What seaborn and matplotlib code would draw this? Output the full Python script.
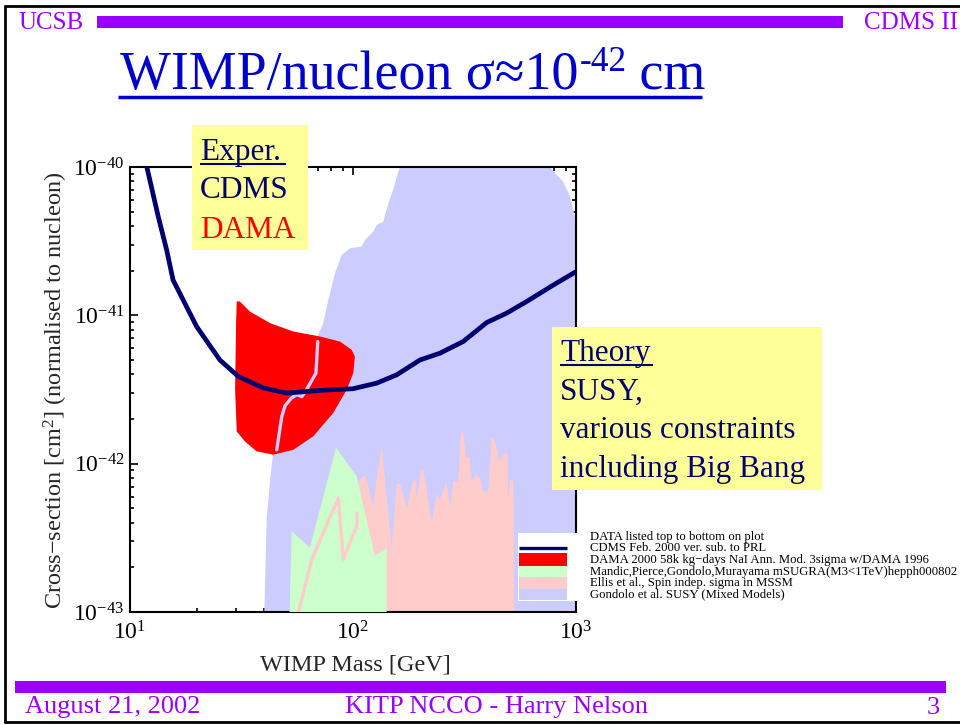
import numpy as np
import matplotlib
matplotlib.use("Agg")
import matplotlib.pyplot as plt
import matplotlib.ticker as mticker
from matplotlib.patches import Rectangle
from matplotlib.lines import Line2D
import seaborn as sns

sns.set_style("ticks")
plt.rcParams["font.family"] = ["Liberation Serif", "DejaVu Serif"]
plt.rcParams["mathtext.fontset"] = "custom"
plt.rcParams["mathtext.rm"] = "Liberation Serif"
plt.rcParams["mathtext.it"] = "Liberation Serif:italic"
plt.rcParams["mathtext.bf"] = "Liberation Serif:bold"

# ---------------- data (WIMP mass in GeV, cross-section in cm^2) ----------------
cdms_mass = [11.5, 11.9, 13.4, 14.6, 15.6, 19.9, 25.3, 30.6, 39.6, 50.4, 71.2, 100,
             127.6, 157, 199.6, 245, 312, 398, 489, 601, 791, 1000]
cdms_sigma = [1.2e-40, 1.0e-40, 4.6e-41, 2.76e-41, 1.73e-41, 8.4e-42, 5.0e-42, 3.87e-42,
              3.24e-42, 2.99e-42, 3.12e-42, 3.2e-42, 3.49e-42, 3.97e-42, 5.0e-42, 5.55e-42,
              6.66e-42, 8.95e-42, 1.035e-41, 1.24e-41, 1.60e-41, 1.97e-41]

dama_mass = [30.1, 31.1, 34.5, 42.5, 54.0, 71.1, 87.4, 98.6, 102, 100.3, 93.7, 81.6,
             66.4, 54.0, 43.9, 37.0, 32.8, 30.1, 29.6, 29.9]
dama_sigma = [1.24e-41, 1.24e-41, 1.06e-41, 8.86e-42, 7.78e-42, 7.20e-42, 6.66e-42, 5.86e-42,
              5.28e-42, 4.08e-42, 3.15e-42, 2.20e-42, 1.53e-42, 1.24e-42, 1.15e-42, 1.21e-42,
              1.41e-42, 1.65e-42, 3.15e-42, 8.86e-42]

dama_trace_mass = [69.5, 68.2, 62.2, 59.0, 56.1, 53.1, 49.6, 47.9, 45.5]
dama_trace_sigma = [6.66e-42, 4.08e-42, 3.20e-42, 2.83e-42, 2.92e-42, 2.78e-42, 2.46e-42,
                    2.07e-42, 1.24e-42]

mandic_mass = [51.3, 53.1, 64.1, 83.9, 103.9, 125.5, 141.6, 141.6]
mandic_sigma = [5e-44, 3.50e-43, 2.71e-43, 1.28e-42, 8.21e-43, 2.38e-43, 2.71e-43, 5e-44]

mandic_line_mass = [56.9, 65.3, 85.9, 90.5, 103.9, 104.5]
mandic_line_sigma = [9.9e-44, 2.26e-43, 5.87e-43, 2.26e-43, 3.78e-43, 4.66e-43]

ellis_mass = [103.2, 103.2, 107.5, 113.2, 118.0, 123.3, 129.4, 134.5, 149.1, 157.0, 162.5,
              174.1, 186.4, 191.6, 193.0, 201.2, 206.6, 225.4, 237.3, 245.5, 263.2, 272.3,
              281.8, 296.7, 304.1, 312.4, 321.2, 332.3, 340.7, 356.1, 371.1, 384.0, 404.4,
              418.8, 433.5, 453.2, 480.6, 492.1, 497.2, 505.8, 523.4, 531.1]
ellis_sigma = [5e-44, 6.7e-43, 7.8e-43, 8.4e-43, 6.7e-43, 5.2e-43, 9.1e-43, 1.31e-42,
               2.7e-43, 7.3e-43, 7.3e-43, 5.05e-43, 7.8e-43, 7.6e-43, 5.7e-43, 8.8e-43,
               9.1e-43, 4.0e-43, 6.3e-43, 5.7e-43, 7.6e-43, 5.05e-43, 7.6e-43, 7.6e-43,
               1.62e-42, 1.62e-42, 1.10e-42, 1.10e-42, 7.45e-43, 8.4e-43, 8.0e-43, 6.5e-43,
               6.5e-43, 1.50e-42, 1.41e-42, 1.06e-42, 1.19e-42, 1.19e-42, 5.7e-43, 7.8e-43,
               7.6e-43, 5e-44]

gondolo_mass = [39.6, 41.0, 42.5, 43.9, 47.1, 57.8, 69.9, 73.6, 77.5, 83.0, 88.9, 96.9,
                109.4, 113.2, 123.3, 127.8, 136.8, 139.2, 146.5, 151.6, 157.0, 162.5, 165,
                764, 764, 819, 877, 940, 973, 1000, 1050, 1050]
gondolo_sigma = [5e-44, 4.20e-43, 7.80e-43, 1.18e-42, 1.69e-42, 3.15e-42, 7.39e-42, 8.86e-42,
                 1.27e-41, 1.92e-41, 2.55e-41, 2.83e-41, 2.91e-41, 3.22e-41, 3.67e-41,
                 4.07e-41, 4.28e-41, 4.75e-41, 6.15e-41, 7.0e-41, 8.6e-41, 1.0e-40, 1.5e-40,
                 1.5e-40, 1.0e-40, 8.83e-41, 7.96e-41, 6.31e-41, 5.13e-41, 4.2e-41, 4.2e-41,
                 5e-44]

legend_texts = [
    "DATA listed top to bottom on plot",
    "CDMS Feb. 2000 ver. sub. to PRL",
    "DAMA 2000 58k kg\u2212days NaI Ann. Mod. 3sigma w/DAMA 1996",
    "Mandic,Pierce,Gondolo,Murayama mSUGRA(M3<1TeV)hepph000802",
    "Ellis et al., Spin indep. sigma in MSSM",
    "Gondolo et al. SUSY (Mixed Models)",
]

NAVY = "#00006e"
RED = "#ff0000"
GREEN = "#ccffcc"
PINK = "#ffcccc"
LAVENDER = "#ccccff"
YELLOW = "#ffff99"
PURPLE = "#9900ff"
BLUE = "#0000cc"

W, H = 960, 725
fig = plt.figure(figsize=(W / 100, H / 100), dpi=100)


def fx(px):
    return px / W


def fy(py):
    return 1 - py / H


# ---------------- main exclusion plot ----------------
ax = fig.add_axes([fx(130), fy(612), 446 / W, 445 / H])
ax.set_xscale("log")
ax.set_yscale("log")
ax.set_xlim(10, 1000)
ax.set_ylim(1e-43, 1e-40)

ax.fill(gondolo_mass, gondolo_sigma, color=LAVENDER, lw=0, zorder=1)
ax.fill(ellis_mass, ellis_sigma, color=PINK, lw=0, zorder=2)
ax.fill(mandic_mass, mandic_sigma, color=GREEN, lw=0, zorder=3)
sns.lineplot(x=mandic_line_mass, y=mandic_line_sigma, sort=False, estimator=None,
             color=PINK, lw=2.4, ax=ax, zorder=3.5)
ax.fill(dama_mass, dama_sigma, color=RED, lw=0, zorder=4)
sns.lineplot(x=dama_trace_mass, y=dama_trace_sigma, sort=False, estimator=None,
             color=LAVENDER, lw=2.4, ax=ax, zorder=4.5)
sns.lineplot(x=cdms_mass, y=cdms_sigma, sort=False, estimator=None,
             color=NAVY, lw=3.4, ax=ax, zorder=6)

ax.xaxis.set_major_locator(mticker.LogLocator(base=10, numticks=10))
ax.yaxis.set_major_locator(mticker.LogLocator(base=10, numticks=10))
ax.xaxis.set_minor_locator(mticker.LogLocator(base=10, subs=np.arange(2, 10), numticks=20))
ax.yaxis.set_minor_locator(mticker.LogLocator(base=10, subs=np.arange(2, 10), numticks=20))
ax.xaxis.set_minor_formatter(mticker.NullFormatter())
ax.yaxis.set_minor_formatter(mticker.NullFormatter())
ax.tick_params(which="both", direction="in", top=True, right=True, color="black", width=1.2)
ax.tick_params(which="major", length=6, labelsize=17, labelcolor="black")
ax.tick_params(axis="x", which="major", pad=7)
ax.tick_params(axis="y", which="major", pad=4)
ax.tick_params(which="minor", length=3)
for s in ax.spines.values():
    s.set_color("black")
    s.set_linewidth(1.5)
ax.set_xlabel("")
ax.set_ylabel("")

fig.text(fx(355), fy(665), "WIMP Mass [GeV]", fontsize=17.5, ha="center", va="center")
fig.text(fx(56), fy(390), "Cross\u2212section [cm$^{2}$] (normalised to nucleon)",
         fontsize=17.5, rotation=90, ha="center", va="center")

# ---------------- annotation boxes ----------------
def box(x0, y0, x1, y1, color, z=5):
    fig.add_artist(Rectangle((fx(x0), fy(y1)), (x1 - x0) / W, (y1 - y0) / H,
                             transform=fig.transFigure, facecolor=color,
                             edgecolor="none", zorder=z))


def hline(x0, x1, y, color, lw, z=7):
    fig.add_artist(Line2D([fx(x0), fx(x1)], [fy(y), fy(y)], transform=fig.transFigure,
                          color=color, lw=lw, zorder=z, solid_capstyle="butt"))


box(191.7, 125, 308.3, 250, YELLOW)
fig.text(fx(200), fy(160), "Exper.", fontsize=22.5, color=NAVY, va="baseline", zorder=7)
hline(200, 286, 163.5, NAVY, 1.5)
fig.text(fx(200), fy(198), "CDMS", fontsize=22.5, color=NAVY, va="baseline", zorder=7)
fig.text(fx(200), fy(238), "DAMA", fontsize=22.5, color=RED, va="baseline", zorder=7)

box(551.7, 326.7, 821.7, 490, YELLOW)
for txt, yb in [("Theory", 360.7), ("SUSY,", 400), ("various constraints", 438),
                ("including Big Bang", 476.7)]:
    fig.text(fx(560), fy(yb), txt, fontsize=22.5, color=NAVY, va="baseline", zorder=7)
hline(560, 653, 365, NAVY, 1.5)

# legend block
box(518, 532.5, 960, 601, "white")
hline(519, 566.7, 547.8, NAVY, 2.4)
box(519, 552.7, 566.7, 566, RED, z=6)
box(519, 566, 566.7, 577.3, GREEN, z=6)
box(519, 577.3, 566.7, 589, PINK, z=6)
box(519, 589, 566.7, 600, LAVENDER, z=6)
for txt, yc in zip(legend_texts, [536.7, 547.7, 560, 571.7, 582.7, 594]):
    fig.text(fx(590), fy(yc), txt, fontsize=9.2, color="black", va="center", zorder=7)

# ---------------- slide header / footer ----------------
box(97, 16, 843, 27.5, PURPLE, z=2)
fig.text(fx(18), fy(29), "UCSB", fontsize=18, color=PURPLE, va="baseline", ha="left")
fig.text(fx(958), fy(29), "CDMS II", fontsize=18, color=PURPLE, va="baseline", ha="right")

box(15, 681, 946, 693, PURPLE, z=2)
fig.text(fx(25), fy(713.5), "August 21, 2002", fontsize=19, color=PURPLE, va="baseline")
fig.text(fx(345), fy(713.5), "KITP NCCO - Harry Nelson", fontsize=19, color=PURPLE,
         va="baseline")
fig.text(fx(940), fy(713.5), "3", fontsize=19, color=PURPLE, va="baseline", ha="right")

# title with superscript exponent
renderer = fig.canvas.get_renderer()
t1 = fig.text(fx(120), fy(89), "WIMP/nucleon \u03c3\u224810", fontsize=38.8, color=BLUE,
              va="baseline", ha="left")
bb = t1.get_window_extent(renderer)
t2 = fig.text(bb.x1 / W + 0.001, fy(71), "-42", fontsize=25.5, color=BLUE,
              va="baseline", ha="left")
bb2 = t2.get_window_extent(renderer)
fig.text(bb2.x1 / W, fy(89), " cm", fontsize=38.8, color=BLUE, va="baseline", ha="left")
hline(118, 702, 97, BLUE, 2.5)

# slide frame
for xs, ys in [([5, 5], [6, 722]), ([5, 960], [6, 6]), ([5, 960], [722, 722])]:
    fig.add_artist(Line2D([fx(v) for v in xs], [fy(v) for v in ys],
                          transform=fig.transFigure, color="black", lw=2, zorder=8))

fig.savefig("out.png", dpi=100)
